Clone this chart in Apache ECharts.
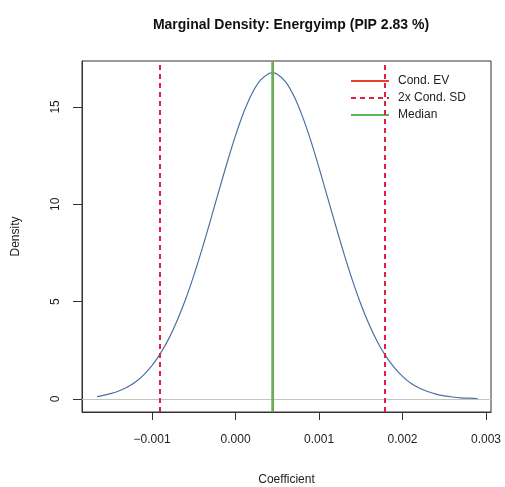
<!DOCTYPE html>
<html>
<head>
<meta charset="utf-8">
<script src="https://cdn.jsdelivr.net/npm/echarts@6/dist/echarts.min.js"></script>
<style>
  html, body { margin: 0; padding: 0; background: #fff; }
  #chart { width: 505px; height: 487px; }
</style>
</head>
<body>
<div id="chart"></div>
<script>
// density curve
const coefX = [
  -0.00166, -0.0016, -0.0015, -0.0014, -0.0013, -0.0012, -0.0011, -0.0010, -0.0009,
  -0.0008, -0.0007, -0.0006, -0.0005, -0.0004, -0.0003, -0.0002, -0.0001, 0.0000,
  0.0001, 0.0002, 0.0003, 0.0004, 0.00044, 0.0005, 0.0006, 0.0007, 0.0008, 0.0009,
  0.0010, 0.0011, 0.0012, 0.0013, 0.0014, 0.0015, 0.0016, 0.0017, 0.0018, 0.0019,
  0.0020, 0.0021, 0.0022, 0.0023, 0.0024, 0.0025, 0.0026, 0.0027, 0.0028, 0.0029
];
const densityY = [
  0.12, 0.17, 0.27, 0.41, 0.60, 0.87, 1.24, 1.72, 2.34,
  3.10, 4.03, 5.11, 6.35, 7.72, 9.19, 10.69, 12.16, 13.54,
  14.75, 15.72, 16.39, 16.72, 16.75, 16.68, 16.29, 15.55, 14.53, 13.28,
  11.87, 10.38, 8.89, 7.44, 6.09, 4.88, 3.82, 2.93, 2.20, 1.62,
  1.16, 0.81, 0.56, 0.38, 0.25, 0.16, 0.10, 0.06, 0.04, 0.02
];
const condEV = 0.00044;
const medianX = 0.00044;
const sdLines = [-0.00091, 0.00179];
const xTicks = [-0.001, 0.000, 0.001, 0.002, 0.003];
const yTicks = [0, 5, 10, 15];

const evStyle = { color: '#e8402e', type: 'solid', width: 2 };
const sdStyle = { color: '#e0204a', type: [5, 4], width: 2 };
const medStyle = { color: '#5cb85a', type: 'solid', width: 2.5 };

const chart = echarts.init(document.getElementById('chart'));
const font = 'Liberation Sans, Arial, sans-serif';

const legendSeries = (name, style) => ({
  name,
  type: 'line',
  data: [],
  symbol: 'none',
  itemStyle: { color: style.color },
  lineStyle: Object.assign({}, style, { width: 2 })
});

chart.setOption({
  animation: false,
  title: {
    text: 'Marginal Density: Energyimp (PIP 2.83 %)',
    left: 286,
    top: 13,
    textAlign: 'center',
    textStyle: { fontFamily: font, fontSize: 14, fontWeight: 'bold', color: '#111' }
  },
  legend: {
    orient: 'vertical',
    left: 345,
    top: 70,
    itemWidth: 38,
    itemHeight: 14,
    itemGap: 5,
    itemStyle: { opacity: 0 },
    data: ['Cond. EV', '2x Cond. SD', 'Median'],
    textStyle: { fontFamily: font, fontSize: 12, color: '#222', padding: [0, 0, 0, 4] }
  },
  grid: {
    left: 82, right: 14, top: 61, bottom: 75,
    outerBoundsMode: 'none',
    show: true, borderColor: '#333', borderWidth: 1, backgroundColor: 'transparent'
  },
  xAxis: {
    type: 'value',
    min: -0.00184,
    max: 0.00306,
    name: 'Coefficient',
    nameLocation: 'middle',
    nameGap: 62,
    nameTextStyle: { fontFamily: font, fontSize: 12, color: '#222' },
    axisLine: { show: true, onZero: false, lineStyle: { color: '#333' } },
    axisTick: { show: true, customValues: xTicks, length: 8, lineStyle: { color: '#333' } },
    axisLabel: {
      customValues: xTicks, fontFamily: font, fontSize: 12, color: '#222', margin: 22,
      formatter: v => (v < 0 ? '\u2212' : '') + Math.abs(v).toFixed(3)
    },
    splitLine: { show: false }
  },
  yAxis: {
    type: 'value',
    min: -0.67,
    max: 17.36,
    name: 'Density',
    nameLocation: 'middle',
    nameGap: 60,
    nameRotate: 90,
    nameTextStyle: { fontFamily: font, fontSize: 12, color: '#222' },
    axisLine: { show: true, onZero: false, lineStyle: { color: '#333' } },
    axisTick: { show: true, customValues: yTicks, length: 9, lineStyle: { color: '#333' } },
    axisLabel: {
      customValues: yTicks, rotate: 90, fontFamily: font, fontSize: 12, color: '#222', margin: 20
    },
    splitLine: { show: false }
  },
  series: [
    {
      name: 'density',
      type: 'line',
      data: coefX.map((x, i) => [x, densityY[i]]),
      smooth: 0.3,
      showSymbol: false,
      symbol: 'none',
      lineStyle: { color: '#4a72a0', width: 1.2 },
      markLine: {
        silent: true,
        symbol: 'none',
        precision: 6,
        label: { show: false },
        data: [
          { yAxis: 0, lineStyle: { color: '#c4c4c4', type: 'solid', width: 1 } },
          ...sdLines.map(v => ({ xAxis: v, lineStyle: sdStyle })),
          { xAxis: condEV, lineStyle: evStyle },
          { xAxis: medianX, lineStyle: medStyle }
        ]
      }
    },
    legendSeries('Cond. EV', evStyle),
    legendSeries('2x Cond. SD', sdStyle),
    legendSeries('Median', medStyle)
  ]
});
</script>
</body>
</html>
